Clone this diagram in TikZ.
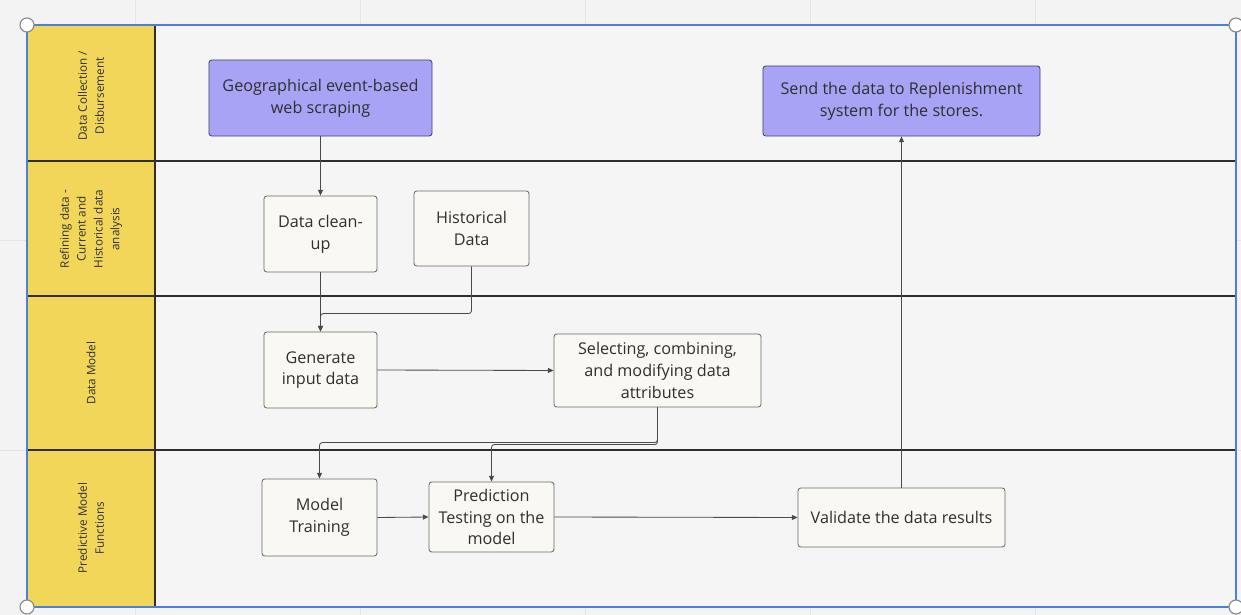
\documentclass[tikz,border=0pt]{standalone}
\usepackage{fontspec}
\setmainfont{Open Sans}
\usetikzlibrary{arrows.meta}

\definecolor{canvas}{HTML}{F3F3F3}
\definecolor{gridline}{HTML}{E4E4E4}
\definecolor{lanebg}{HTML}{F5F5F5}
\definecolor{lanegold}{HTML}{F2D65A}
\definecolor{frameblue}{HTML}{4A7FE0}
\definecolor{lineblack}{HTML}{2E2E2E}
\definecolor{boxfill}{HTML}{FAF8F3}
\definecolor{boxedge}{HTML}{6A6A6A}
\definecolor{sendfill}{HTML}{A9A3F6}
\definecolor{sendedge}{HTML}{44446A}
\definecolor{flowgray}{HTML}{4A4A4A}
\definecolor{inkgray}{HTML}{2F2F2F}
\definecolor{handlegray}{HTML}{8A8A8A}

\newcommand\boxfont{\fontsize{11.5}{15.5}\selectfont}
\newcommand\lanefont{\fontsize{8.3}{12}\selectfont}

\begin{document}
\begin{tikzpicture}[x=0.025cm, y=-0.025cm,
    stepbox/.style={draw=boxedge, fill=boxfill, rounded corners=2pt,
      line width=0.6pt, align=center, inner sep=0pt, text=inkgray, font=\boxfont},
    sendbox/.style={stepbox, draw=sendedge, fill=sendfill},
    lanename/.style={rotate=90, align=center, font=\lanefont, text=inkgray},
    flow/.style={draw=flowgray, line width=0.6pt, rounded corners=2pt,
      -{Triangle[length=4pt,width=3.5pt]}},
    divider/.style={draw=lineblack, line width=0.9pt},
    handle/.style={circle, draw=handlegray, fill=white, line width=0.8pt,
      minimum size=0.35cm, inner sep=0pt}
  ]

  \useasboundingbox (0,0) rectangle (1241,615);
  \fill[canvas] (0,0) rectangle (1241,615);

  % board grid
  \foreach \gx in {135,360,585,810,1035}
    \draw[gridline, line width=0.6pt] (\gx,0) -- (\gx,615);
  \foreach \gy in {240,450}
    \draw[gridline, line width=0.6pt] (0,\gy) -- (1241,\gy);

  % swimlanes
  \fill[lanebg] (27,25) rectangle (1236,607);
  \fill[lanegold] (27,25) rectangle (155,607);
  \foreach \ly in {161,296,450}
    \draw[divider] (27,\ly) -- (1236,\ly);
  \draw[divider] (155,25) -- (155,607);
  \draw[frameblue, line width=0.8pt] (27,25) rectangle (1236,607);

  \node[lanename] (collect) at (91, 96)  {Data Collection /\\ Disbursement};
  \node[lanename] (refine)  at (91,229)  {Refining data -\\ Current and\\ Historical data\\ analysis};
  \node[lanename] (model)   at (91,373)  {Data Model};
  \node[lanename] (predict) at (91,528)  {Predictive Model\\ Functions};

  % steps
  \node[sendbox, minimum width=5.575cm, minimum height=1.9cm]   (geo)     at (320.5, 98)  {Geographical event-based\\ web scraping};
  \node[sendbox, minimum width=6.925cm, minimum height=1.75cm]  (send)    at (901.5,101)  {Send the data to Replenishment\\ system for the stores.};
  \node[stepbox, minimum width=2.825cm, minimum height=1.9cm]   (cleanup) at (320.5,234)  {Data clean-\\ up};
  \node[stepbox, minimum width=2.875cm, minimum height=1.875cm] (hist)    at (471.5,228.5){Historical\\ Data};
  \node[stepbox, minimum width=2.825cm, minimum height=1.9cm]   (gen)     at (320.5,370)  {Generate\\ input data};
  \node[stepbox, minimum width=5.175cm, minimum height=1.825cm] (attrs)   at (657.5,370.5){Selecting, combining,\\ and modifying data\\ attributes};
  \node[stepbox, minimum width=2.875cm, minimum height=1.925cm] (train)   at (319.5,517.5){Model\\ Training};
  \node[stepbox, minimum width=3.125cm, minimum height=1.75cm]  (pred)    at (491.5,517)  {Prediction\\ Testing on the\\ model};
  \node[stepbox, minimum width=5.175cm, minimum height=1.475cm] (valid)   at (901.5,517.5){Validate the data results};

  % flows
  \draw[flow] (geo.south) -- (cleanup.north);
  \draw[flow] (cleanup.south) -- (gen.north);
  \draw[flow] (hist.south) |- ([yshift=0.45cm]gen.north) -- (gen.north);
  \draw[flow] (gen.east) -- (attrs.west);
  \draw[flow] (attrs.south) |- ([yshift=0.9cm]train.north) -- (train.north);
  \draw[flow] (attrs.south) |- ([yshift=0.925cm]pred.north) -- (pred.north);
  \draw[flow] (train.east) -- (pred.west);
  \draw[flow] (pred.east) -- (valid.west);
  \draw[flow] (valid.north) -- (send.south);

  % selection handles
  \node[handle] (hnw) at (27,25)   {};
  \node[handle] (hne) at (1236,25) {};
  \node[handle] (hsw) at (27,607)  {};
  \node[handle] (hse) at (1236,607){};

\end{tikzpicture}
\end{document}
